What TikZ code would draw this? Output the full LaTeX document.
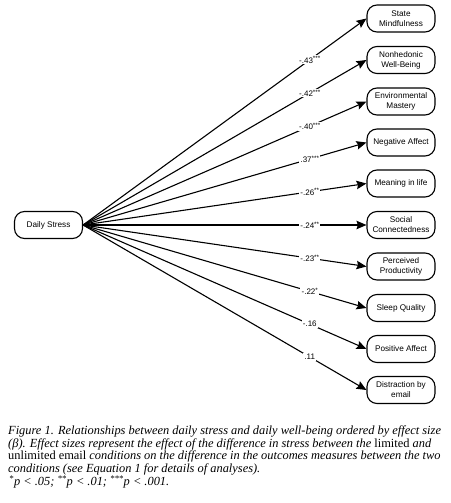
\documentclass[tikz,border=0pt]{standalone}
\usepackage{fontspec}
\setmainfont{Liberation Serif}
\setsansfont{Liberation Sans}
\usetikzlibrary{arrows.meta}
\newcommand{\stars}[1]{\raisebox{2.2pt}{\fontsize{6.3}{6.3}\selectfont #1}}
\begin{document}
\begin{tikzpicture}[x=1pt,y=-1pt,
  box/.style={draw=black, line width=1.1pt, rounded corners=10pt, minimum width=68pt, minimum height=27pt,
    align=center, inner sep=1pt, font=\sffamily\fontsize{8.2}{10}\selectfont},
  conn/.style={draw=black, line width=1.1pt, -{Stealth[length=10pt,width=8.5pt,inset=1.5pt]}},
  lab/.style={fill=white, inner sep=1.2pt, font=\sffamily\fontsize{8}{9}\selectfont},
  captext/.style={anchor=north west, align=left, inner sep=0pt, font=\fontsize{12.4}{12.8}\selectfont\itshape}]
\useasboundingbox (0,0) rectangle (450,503);
\fill[white] (0,0) rectangle (450,503);
\node[box] (ds) at (48.5,225) {Daily Stress};
\node[box] (n1) at (401,18.5) {State\\Mindfulness};
\node[box] (n2) at (401,60) {Nonhedonic\\Well-Being};
\node[box] (n3) at (401,101.5) {Environmental\\Mastery};
\node[box] (n4) at (401,142.5) {Negative Affect};
\node[box] (n5) at (401,183.5) {Meaning in life};
\node[box] (n6) at (401,225) {Social\\Connectedness};
\node[box] (n7) at (401,266.5) {Perceived\\Productivity};
\node[box] (n8) at (401,308) {Sleep Quality};
\node[box] (n9) at (401,349) {Positive Affect};
\node[box] (n10) at (401,390) {Distraction by\\email};
\coordinate (src) at (ds.east);
\draw[conn] (src) -- node[lab, pos=0.8] {-.43\stars{***}} (n1.west);
\draw[conn] (src) -- node[lab, pos=0.8] {-.42\stars{***}} (n2.west);
\draw[conn] (src) -- node[lab, pos=0.8] {-.40\stars{***}} (n3.west);
\draw[conn] (src) -- node[lab, pos=0.8] {.37\stars{***}} (n4.west);
\draw[conn] (src) -- node[lab, pos=0.8] {-.26\stars{**}} (n5.west);
\draw[conn] (src) -- node[lab, pos=0.8] {-.24\stars{**}} (n6.west);
\draw[conn] (src) -- node[lab, pos=0.8] {-.23\stars{**}} (n7.west);
\draw[conn] (src) -- node[lab, pos=0.8] {-.22\stars{*}} (n8.west);
\draw[conn] (src) -- node[lab, pos=0.8] {-.16} (n9.west);
\draw[conn] (src) -- node[lab, pos=0.8] {.11} (n10.west);
\node[captext] (caption) at (8,425.4) {Figure 1. Relationships between daily stress and daily well-being ordered by effect size\\
(\textit{β}). Effect sizes represent the effect of the difference in stress between the {\upshape limited} and\\
{\upshape unlimited email} conditions on the difference in the outcomes measures between the two\\
conditions (see Equation 1 for details of analyses).\\
\hspace*{1pt}\textsuperscript{*}p < .05; \textsuperscript{**}p < .01; \textsuperscript{***}p < .001.};
\end{tikzpicture}
\end{document}
